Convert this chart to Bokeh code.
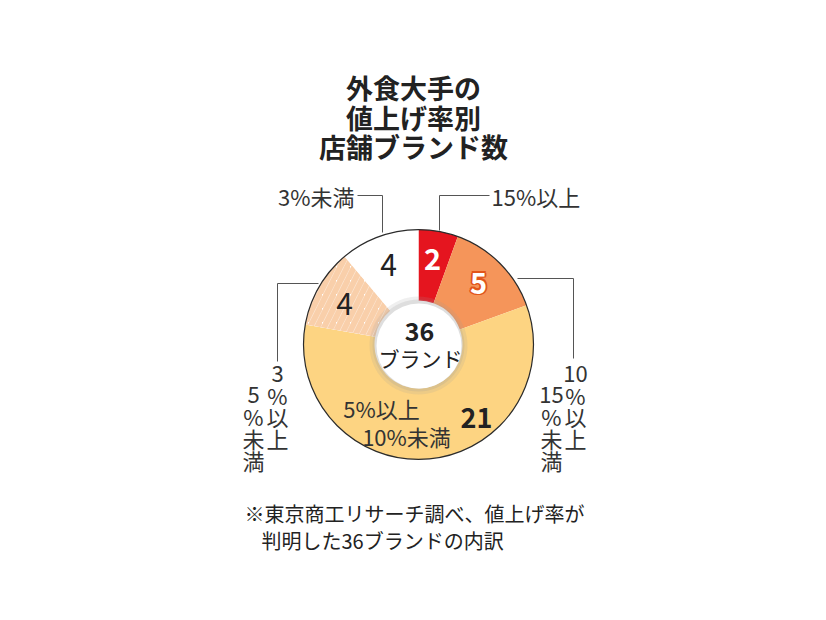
import numpy as np

from bokeh.plotting import figure
from bokeh.models import Range1d, ColumnDataSource
from bokeh.core.properties import value
from bokeh.embed import file_html
from bokeh.resources import INLINE

# data: brands by price-rise rate, clockwise from 12 o'clock
categories = ["15%以上", "10%以上15%未満", "5%以上10%未満", "3%以上5%未満", "3%未満"]
counts = [2, 5, 21, 4, 4]
colors = ["#e5151f", "#f5955a", "#fdd482", "#ffffff", "#ffffff"]
hatches = [" ", " ", " ", "/", " "]
total_label = ["36", "ブランド"]
title_lines = ["外食大手の", "値上げ率別", "店舗ブランド数"]
note_lines = ["※東京商工リサーチ調べ、値上げ率が", "判明した36ブランドの内訳"]

FONT = value("Noto Sans CJK JP")
INK = "#222222"

W, H = 810, 600


def Y(py):
    # page pixel row -> data y
    return H - py


p = figure(width=W, height=H, output_backend="svg", toolbar_location=None,
           x_range=Range1d(0, W), y_range=Range1d(0, H),
           min_border=0)
p.axis.visible = False
p.grid.visible = False
p.outline_line_color = None
p.background_fill_color = "white"

cx, cy = 418, Y(344)
r_out, r_in = 115, 44

vals = np.array(counts, dtype=float)
ends = np.cumsum(vals) / vals.sum() * 2 * np.pi
starts = ends - vals / vals.sum() * 2 * np.pi
src = ColumnDataSource(dict(
    start=np.pi / 2 - ends, end=np.pi / 2 - starts,
    color=colors, hatch=hatches, name=categories))

p.annular_wedge(x=cx, y=cy, inner_radius=r_in, outer_radius=r_out,
                start_angle="start", end_angle="end", source=src,
                fill_color="color", line_color=None,
                hatch_pattern="hatch", hatch_color="#f9cfaa",
                hatch_weight=6, hatch_scale=14)

# outer rim
p.circle(x=cx, y=cy, radius=r_out, fill_color=None, line_color="#2b2b2b",
         line_width=1.2)

# soft shadow around the centre disc
p.annulus(x=cx, y=cy - 1, inner_radius=41, outer_radius=49,
          fill_color="#9a9a9a", fill_alpha=0.16, line_color=None)
p.annulus(x=cx, y=cy - 1, inner_radius=41, outer_radius=46,
          fill_color="#9a9a9a", fill_alpha=0.2, line_color=None)
p.circle(x=cx + 0.5, y=cy - 1.5, radius=42.5, fill_color="white",
         line_color=None)

# centre total
p.text(x=[419], y=[Y(331)], text=[total_label[0]], text_font=FONT,
       text_font_size="25px", text_font_style="bold", text_color=INK,
       text_align="center", text_baseline="middle")
p.text(x=[420], y=[Y(357)], text=[total_label[1]], text_font=FONT,
       text_font_size="21px", text_color=INK,
       text_align="center", text_baseline="middle")

# counts on slices
p.text(x=[432], y=[Y(258)], text=[str(counts[0])], text_font=FONT,
       text_font_size="29px", text_font_style="bold", text_color="white",
       text_align="center", text_baseline="middle")
# "5": white figure with an orange rim
for dx, dy in [(-1.7, 0), (1.7, 0), (0, -1.7), (0, 1.7),
               (-1.2, -1.2), (1.2, 1.2), (-1.2, 1.2), (1.2, -1.2)]:
    p.text(x=[478 + dx], y=[Y(282) + dy], text=[str(counts[1])], text_font=FONT,
           text_font_size="29px", text_font_style="bold", text_color="#e2561a",
           text_align="center", text_baseline="middle")
p.text(x=[478], y=[Y(282)], text=[str(counts[1])], text_font=FONT,
       text_font_size="29px", text_font_style="bold", text_color="white",
       text_align="center", text_baseline="middle")
p.text(x=[476], y=[Y(417)], text=[str(counts[2])], text_font=FONT,
       text_font_size="27px", text_font_style="bold", text_color=INK,
       text_align="center", text_baseline="middle")
p.text(x=[344], y=[Y(303)], text=[str(counts[3])], text_font=FONT,
       text_font_size="30px", text_color=INK,
       text_align="center", text_baseline="middle")
p.text(x=[388], y=[Y(264)], text=[str(counts[4])], text_font=FONT,
       text_font_size="30px", text_color=INK,
       text_align="center", text_baseline="middle")

# label inside the big slice
p.text(x=[381, 406], y=[Y(407), Y(435)], text=["5%以上", "10%未満"],
       text_font=FONT, text_font_size="22px", text_color="#333333",
       text_align="center", text_baseline="middle")

# leader lines
lc = "#555555"
p.line(x=[357, 382, 382], y=[Y(195), Y(195), Y(232)], line_color=lc, line_width=1)
p.line(x=[439, 439, 489], y=[Y(230), Y(195), Y(195)], line_color=lc, line_width=1)
p.line(x=[277, 277, 318], y=[Y(361), Y(283), Y(283)], line_color=lc, line_width=1)
p.line(x=[517, 573, 573], y=[Y(278), Y(278), Y(358)], line_color=lc, line_width=1)

# outside labels
p.text(x=[354], y=[Y(195)], text=[categories[4]], text_font=FONT,
       text_font_size="22px", text_color="#333333",
       text_align="right", text_baseline="middle")
p.text(x=[491], y=[Y(195)], text=[categories[0]], text_font=FONT,
       text_font_size="22px", text_color="#333333",
       text_align="left", text_baseline="middle")

# vertical labels (right column first, left column one row lower)
rows = [373, 394, 415, 437, 459]
vert = [
    (277, 253, ["3", "%", "以", "上"], ["5", "%", "未", "満"]),
    (575, 551, ["10", "%", "以", "上"], ["15", "%", "未", "満"]),
]
for xr, xl, col_r, col_l in vert:
    xs = [xr] * len(col_r) + [xl] * len(col_l)
    ys = [Y(v) for v in rows[:len(col_r)]] + [Y(v) for v in rows[1:1 + len(col_l)]]
    p.text(x=xs, y=ys, text=col_r + col_l, text_font=FONT,
           text_font_size="22px", text_color="#333333",
           text_align="center", text_baseline="middle")

# title
p.text(x=[413] * 3, y=[Y(87), Y(117), Y(146)], text=title_lines,
       text_font=FONT, text_font_size="27px", text_font_style="bold",
       text_color=INK, text_align="center", text_baseline="middle")

# note
p.text(x=[244, 261], y=[Y(513), Y(540)], text=note_lines,
       text_font=FONT, text_font_size="20px", text_color=INK,
       text_align="left", text_baseline="middle")

open("out.html", "w").write(file_html(p, INLINE))
